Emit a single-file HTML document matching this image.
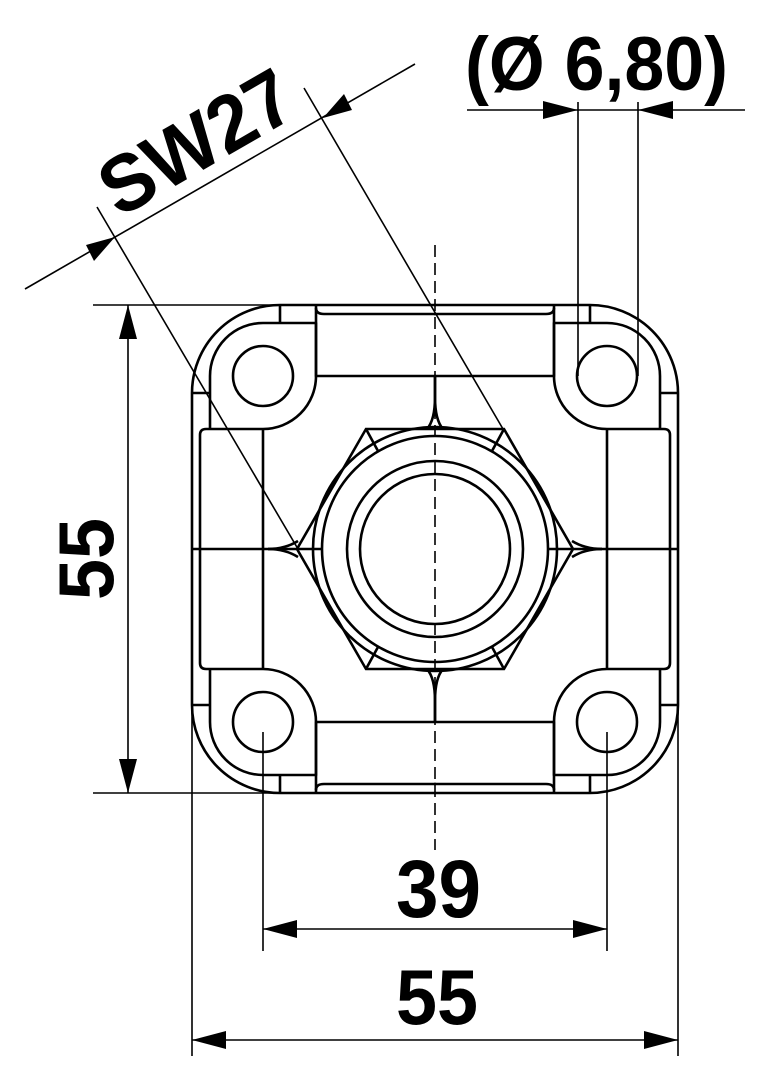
<!DOCTYPE html>
<html><head><meta charset="utf-8"><style>
html,body{margin:0;padding:0;background:#fff;}
svg{display:block;}
text{font-family:"Liberation Sans",sans-serif;font-weight:bold;fill:#000;}
</style></head><body>
<svg width="771" height="1074" viewBox="0 0 771 1074" xmlns="http://www.w3.org/2000/svg">
<defs>
<g id="q" fill="none" stroke="#000" stroke-width="2.6" stroke-linejoin="round">
  <path d="M192,549 L192,393 A88,88 0 0 1 280,305 L436,305"/>
  <path d="M280,305 L280,323"/>
  <path d="M316,376 L316,323 L263,323 A53,53 0 0 0 210,376 L210,428"/>
  <path d="M192,393 L210,393"/>
  <path d="M316,376 A53,53 0 0 1 263,429 L206,429 Q200,429 200,435 L200,549"/>
  <path d="M263,429 L263,549"/>
  <path d="M316,305 L316,376 L436,376"/>
  <path d="M316,308 Q316,314 324,314 L436,314"/>
  <path d="M435,376 L435,397 Q435,420 427,429"/>
  <path d="M298,541 Q285,549 268,549"/>
</g>
</defs>
<use href="#q"/>
<use href="#q" transform="translate(870,0) scale(-1,1)"/>
<use href="#q" transform="translate(0,1098) scale(1,-1)"/>
<use href="#q" transform="translate(870,1098) scale(-1,-1)"/>
<g fill="none" stroke="#000" stroke-width="2.6">
  <circle cx="263" cy="376" r="30"/>
  <circle cx="607" cy="376" r="30"/>
  <circle cx="263" cy="722" r="30"/>
  <circle cx="607" cy="722" r="30"/>
  <path d="M192,549 L322,549 M548,549 L678,549"/>
  <polygon points="366,429 504,429 573,549 504,669 366,669 297,549" fill="#fff"/>
  <circle cx="435" cy="549" r="122"/>
  <circle cx="435" cy="549" r="113"/>
  <circle cx="435" cy="549" r="88"/>
  <circle cx="435" cy="549" r="75"/>
  <path d="M366,429 L378,451 M504,429 L492,451 M366,669 L378,647 M504,669 L492,647"/>
  <path d="M297,549 L322,549 M573,549 L548,549"/>
</g>
<g fill="none" stroke="#000" stroke-width="1.6">
  <path d="M435,245 L435,850" stroke-dasharray="12,6"/>
  <path d="M25,289 L415,64"/>
  <path d="M97,207 L298,549"/>
  <path d="M304,88 L503,429"/>
  <path d="M93,305 L280,305 M93,793 L280,793 M128,305 L128,793"/>
  <path d="M192,700 L192,1056 M678,700 L678,1056 M192,1040 L678,1040"/>
  <path d="M263,732 L263,951 M607,732 L607,951 M263,929 L607,929"/>
  <path d="M467,110 L745,110 M578,102 L578,376 M638,102 L638,376"/>
</g>
<g fill="#000" stroke="none">
  <polygon points="115,237 86,245 94,261"/>
  <polygon points="323,118 352,110 344,94"/>
  <polygon points="128,305 119,339 137,339"/>
  <polygon points="128,793 119,759 137,759"/>
  <polygon points="263,929 297,920 297,938"/>
  <polygon points="607,929 573,920 573,938"/>
  <polygon points="192,1040 226,1031 226,1049"/>
  <polygon points="678,1040 644,1031 644,1049"/>
  <polygon points="578,110 543,101 543,119"/>
  <polygon points="638,110 673,101 673,119"/>
</g>
<text x="0" y="0" font-size="80" text-anchor="middle" transform="translate(210,166) rotate(-30)" textLength="210" lengthAdjust="spacingAndGlyphs">SW27</text>
<text x="465" y="90" font-size="76" textLength="263" lengthAdjust="spacingAndGlyphs">(Ø 6,80)</text>
<text x="396" y="917" font-size="82" textLength="85" lengthAdjust="spacingAndGlyphs">39</text>
<text x="396" y="1024" font-size="78" textLength="82" lengthAdjust="spacingAndGlyphs">55</text>
<text x="0" y="0" font-size="78" text-anchor="middle" transform="translate(113,559) rotate(-90)" textLength="82" lengthAdjust="spacingAndGlyphs">55</text>
</svg>
</body></html>
